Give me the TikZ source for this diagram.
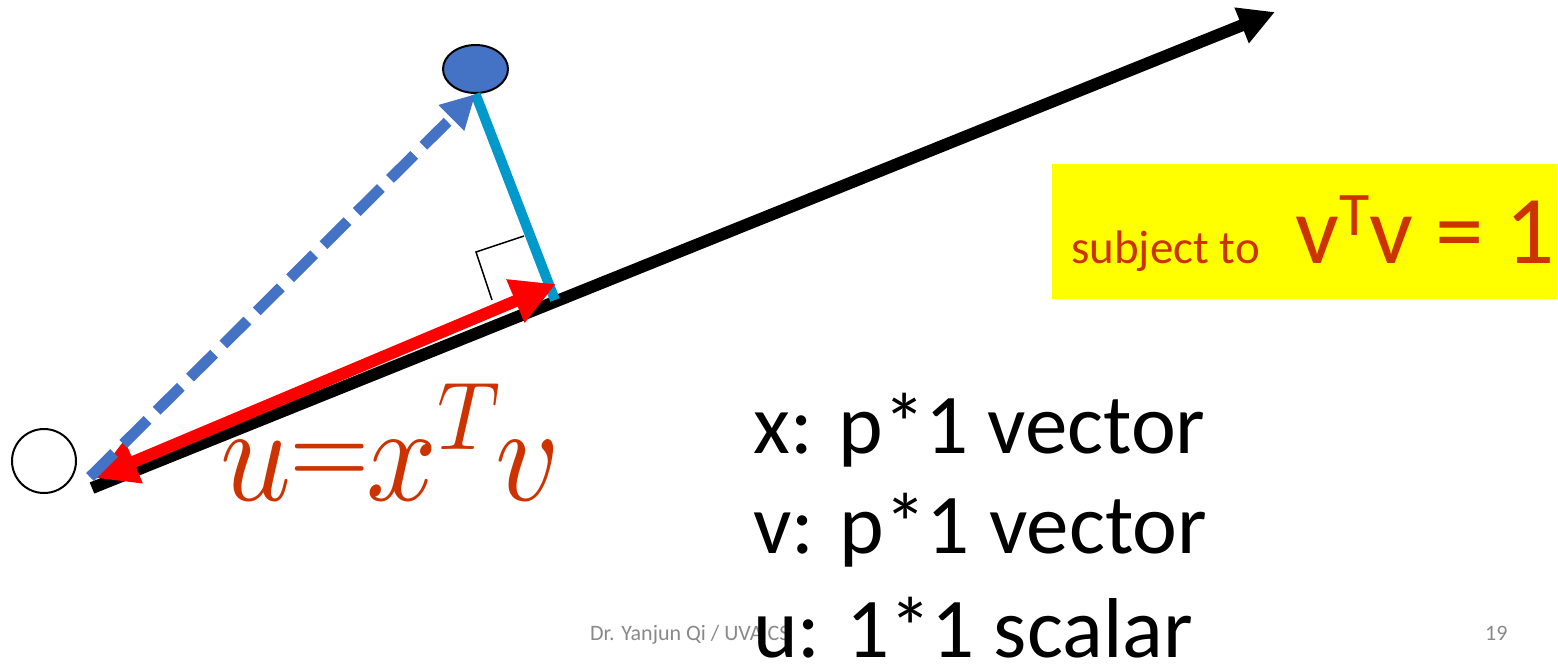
\documentclass[tikz,border=0pt]{standalone}
\usepackage{fontspec}
\usepackage{xcolor}
\usetikzlibrary{arrows.meta, positioning, shapes.geometric}
\setmainfont{Carlito}
\DeclareFontShape{OML}{cmm}{m}{it}{<->cmmi10}{}
\DeclareFontShape{OMS}{cmsy}{m}{n}{<->cmsy10}{}
\DeclareFontShape{OT1}{cmr}{m}{n}{<->cmr10}{}
\definecolor{pcaBlue}{RGB}{68,114,196}
\definecolor{pcaCyan}{RGB}{0,153,204}
\definecolor{pcaRed}{RGB}{255,0,0}
\definecolor{labelRed}{RGB}{204,51,0}
\definecolor{footGray}{RGB}{137,137,137}
\definecolor{boxYellow}{RGB}{255,255,0}
\newcommand{\bigtxt}{\fontsize{85}{100}\selectfont}
\tikzset{
    origin/.style={
        circle,
        draw=black,
        line width=2pt,
        fill=white,
        minimum size=64pt,
        inner sep=0pt
    },
    datapoint/.style={
        ellipse,
        draw=black,
        line width=2pt,
        fill=pcaBlue,
        minimum width=65pt,
        minimum height=48pt,
        inner sep=0pt
    },
    axisarrow/.style={-{Triangle[length=36pt, width=36pt]}, line width=12pt, draw=black},
    projarrow/.style={{Triangle[length=42pt, width=44pt]}-{Triangle[length=44pt, width=44pt]}, line width=12pt, draw=pcaRed},
    pointarrow/.style={-{Triangle[length=34pt, width=34pt]}, line width=11pt, draw=pcaBlue, dash pattern=on 34pt off 13pt},
    perpline/.style={line width=10pt, draw=pcaCyan},
    rightangle/.style={line width=1.5pt, draw=black},
    txt/.style={inner sep=0pt, anchor=base west},
    constraint/.style={rectangle, fill=boxYellow, inner sep=0pt}
}

\begin{document}
\begin{tikzpicture}[x=1pt, y=-1pt]
    \useasboundingbox (0,0) rectangle (1558,665);
    % constraint box
    \path[constraint] (1052,164) rectangle (1557,299);
    \node[txt, text=labelRed, font=\fontsize{47}{56}\selectfont] (subj) at (1071,263) {subject to};
    \node[txt, text=labelRed, font=\fontsize{97}{116}\selectfont] (vtv) at (1295,263)
        {v\raisebox{28pt}{\fontsize{62}{74}\selectfont T}v = 1};
    % axis and points
    \coordinate (axstart) at (92,488);
    \coordinate (axend) at (1275,12);
    \coordinate (ustart) at (95,478);
    \coordinate (uend) at (556,284);
    \coordinate (xstart) at (90,477);
    \coordinate (foot) at (555,300);
    \node[origin] (orig) at (44,461) {};
    \node[datapoint] (pt) at (475.5,69) {};
    \draw[axisarrow] (axstart) -- (axend);
    \draw[perpline] (pt.south) -- (foot);
    \draw[projarrow] (ustart) -- (uend);
    \draw[pointarrow] (xstart) -- (pt.south);
    % right angle mark
    \coordinate (ra1) at (524,236);
    \coordinate (ra2) at (476,252);
    \coordinate (ra3) at (492,300);
    \draw[rightangle] (ra1) -- (ra2) -- (ra3);
    % projection label
    \node[txt, text=labelRed, font=\fontsize{138}{160}\selectfont] (proj) at (220,500)
        {\scalebox{0.9}[1]{$u$\kern-2pt\raisebox{14pt}{\fontsize{115}{120}\selectfont$=$}\kern-4pt$x^{T}\kern-6pt v$}};
    % definitions
    \node[txt, font=\bigtxt] (xdef) at (753,453) {x: p*1 vector};
    \node[txt, font=\bigtxt] (vdef) at (753,553) {v: p*1 vector};
    \node[txt, text=footGray, font=\fontsize{22}{26}\selectfont] (foot1) at (590,640) {Dr. Yanjun Qi / UVA CS};
    \node[txt, text=footGray, font=\fontsize{22}{26}\selectfont] (foot2) at (1485,640) {19};
    \node[txt, font=\bigtxt] (udef) at (753,657) {u: 1*1 scalar};
\end{tikzpicture}
\end{document}
